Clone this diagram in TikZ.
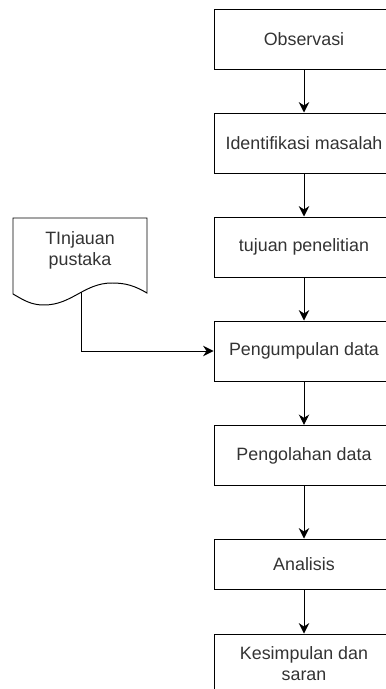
\documentclass[tikz,border=0pt]{standalone}
\usepackage{fontspec}
\setmainfont{Liberation Sans}
\usetikzlibrary{arrows.meta}
\tikzset{
	proses/.style={draw, minimum width=4.5cm, minimum height=1.5cm, align=center, text=black!80},
}
\begin{document}
\begin{tikzpicture}[>={Stealth[length=2.6mm, width=2.6mm]}, line width=0.7pt, font=\fontsize{12.7}{14.9}\selectfont]
		\clip (0,0) rectangle (9.65,17.225);
		\node[proses] (obs) at (7.6,16.24) {Observasi};
		\node[proses] (ident) at (7.6,13.65) {Identifikasi masalah};
		\node[proses] (tujuan) at (7.6,11.05) {tujuan penelitian};
		\node[proses] (kumpul) at (7.6,8.45) {Pengumpulan data};
		\node[proses] (olah) at (7.6,5.84) {Pengolahan data};
		\node[proses, minimum height=1.25cm] (analisis) at (7.6,3.125) {Analisis};
		\node[proses] (simpul) at (7.6,0.625) {Kesimpulan dan\\saran};
		\draw[->] (obs) -- (ident);
		\draw[->] (ident) -- (tujuan);
		\draw[->] (tujuan) -- (kumpul);
		\draw[->] (kumpul) -- (olah);
		\draw[->] (olah) -- (analisis);
		\draw[->] (analisis) -- (simpul);
		\begin{scope}
			\draw (0.325,9.875) -- (0.325,11.775) -- (3.675,11.775) -- (3.675,9.9)
				to[out=150, in=0] (2.8,10.15)
				to[out=180, in=0] coordinate[pos=0.44] (docfoot) (1.1,9.6)
				to[out=180, in=-30] (0.325,9.875) -- cycle;
			\node[align=center, text=black!80] (pustaka) at (2.0,10.96) {TInjauan\\pustaka};
			\draw[->] (docfoot) |- (kumpul.west);
		\end{scope}
	\end{tikzpicture}
\end{document}
